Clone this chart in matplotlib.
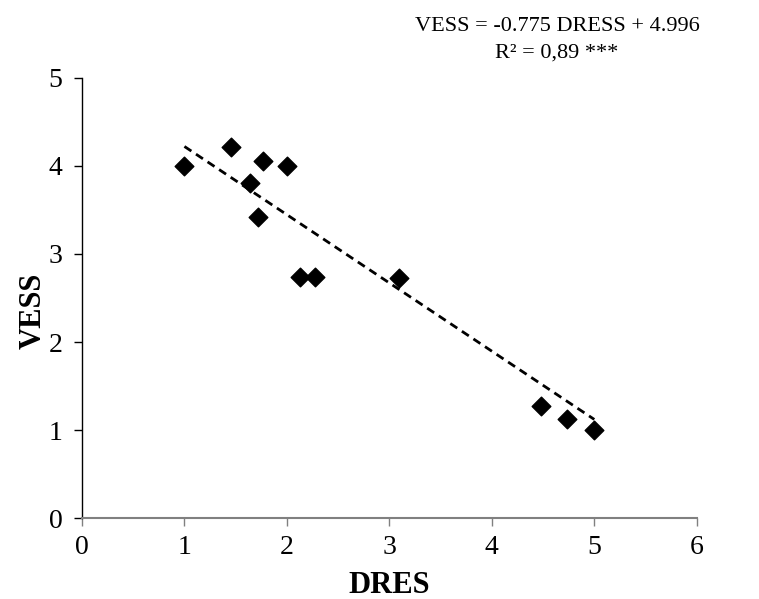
import matplotlib.pyplot as plt
import numpy as np

plt.rcParams["font.family"] = ["Liberation Serif", "DejaVu Serif"]

dres = [1.0, 1.45, 1.64, 1.72, 1.77, 2.0, 2.13, 2.27, 3.09, 4.48, 4.73, 5.0]
vess = [4.0, 4.22, 3.81, 3.42, 4.06, 4.0, 2.74, 2.74, 2.73, 1.27, 1.13, 1.0]
slope = -0.775
intercept = 4.996

fig = plt.figure(figsize=(7.59, 5.99), dpi=100)
ax = fig.add_axes([0.108, 0.135, 0.81, 0.735])

ax.scatter(dres, vess, marker="D", s=90, color="black", zorder=3)

xs = np.array([min(dres), max(dres)])
ax.plot(xs, slope * xs + intercept, "--", color="black", lw=2, dashes=(3, 2))

ax.set_xlim(0, 6)
ax.set_ylim(0, 5)
ax.set_xticks(range(0, 7))
ax.set_yticks(range(0, 6))
ax.tick_params(labelsize=20, direction="out", length=6, width=1)
ax.tick_params(axis="x", colors="#808080", labelcolor="black", pad=6)
ax.tick_params(axis="y", pad=8)

ax.spines["top"].set_visible(False)
ax.spines["right"].set_visible(False)
ax.spines["bottom"].set_color("#808080")
ax.spines["bottom"].set_linewidth(1.5)
ax.spines["left"].set_linewidth(1)

ax.set_xlabel("DRES", fontsize=22, fontweight="bold")
ax.set_ylabel("VESS", fontsize=22, fontweight="bold")
ax.xaxis.set_label_coords(0.5, -0.152)
ax.yaxis.set_label_coords(-0.08, 0.47)
ax.xaxis.label.set_va("center")
ax.yaxis.label.set_va("center")

fig.text(0.734, 0.972, "VESS = -0.775 DRESS + 4.996\nR² = 0,89 ***",
         ha="center", va="top", fontsize=16, linespacing=1.55)

fig.savefig("out.png", dpi=100)
